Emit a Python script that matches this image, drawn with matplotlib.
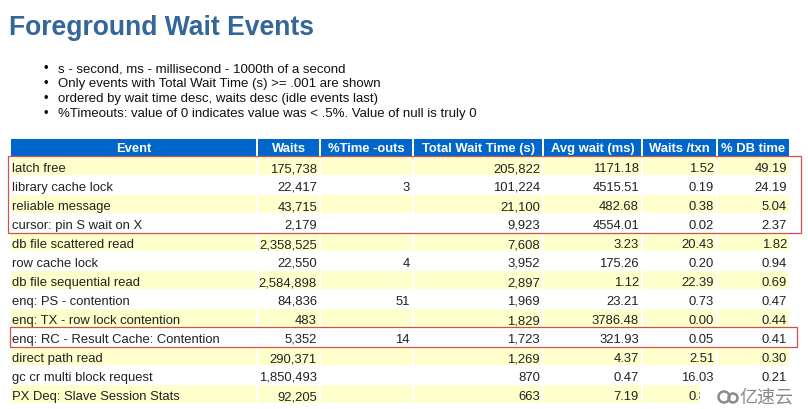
import matplotlib
matplotlib.use("Agg")
import matplotlib.pyplot as plt
from matplotlib.patches import Rectangle, Circle

# ---- data ----
title = "Foreground Wait Events"
notes = [
    "s - second, ms - millisecond - 1000th of a second",
    "Only events with Total Wait Time (s) >= .001 are shown",
    "ordered by wait time desc, waits desc (idle events last)",
    "%Timeouts: value of 0 indicates value was < .5%. Value of null is truly 0",
]
columns = ["Event", "Waits", "%Time -outs", "Total Wait Time (s)",
           "Avg wait (ms)", "Waits /txn", "% DB time"]
events = ["latch free", "library cache lock", "reliable message",
          "cursor: pin S wait on X", "db file scattered read", "row cache lock",
          "db file sequential read", "enq: PS - contention",
          "enq: TX - row lock contention", "enq: RC - Result Cache: Contention",
          "direct path read", "gc cr multi block request",
          "PX Deq: Slave Session Stats"]
waits = [175738, 22417, 43715, 2179, 2358525, 22550, 2584898, 84836, 483,
         5352, 290371, 1850493, 92205]
timeouts = [None, 3, None, None, None, 4, None, 51, None, 14, None, None, None]
total_wait = [205822, 101224, 21100, 9923, 7608, 3952, 2897, 1969, 1829,
              1723, 1269, 870, 663]
avg_wait = [1171.18, 4515.51, 482.68, 4554.01, 3.23, 175.26, 1.12, 23.21,
            3786.48, 321.93, 4.37, 0.47, 7.19]
waits_txn = [1.52, 0.19, 0.38, 0.02, 20.43, 0.20, 22.39, 0.73, 0.00, 0.05,
             2.51, 16.03, 0.80]
db_time = [49.19, 24.19, 5.04, 2.37, 1.82, 0.94, 0.69, 0.47, 0.44, 0.41,
           0.30, 0.21, 0.16]
highlight_groups = [(0, 3), (9, 9)]

# ---- layout (pixels) ----
W, H = 808, 409
col_edges = [10, 257, 320, 413, 543, 642, 717, 790]
head_top, head_bot = 139, 156
row_top0, row_h = 157, 19
wm_x, wm_y = 700, 385  # watermark patch corner

fam = ["Liberation Sans", "DejaVu Sans"]
body_fs = 9.4
blue_title = "#336699"
blue_head = "#0066CC"
yellow = "#FFFFCC"
red = "#D05050"

fig = plt.figure(figsize=(W / 100, H / 100), dpi=100)
ax = fig.add_axes([0, 0, 1, 1])
ax.set_xlim(0, W)
ax.set_ylim(H, 0)
ax.axis("off")

# title and notes
ax.text(9, 35, title, fontsize=19.1, fontweight="bold", color=blue_title,
        family=fam, va="baseline", ha="left")
for i, line in enumerate(notes):
    y = 72 + i * 15
    ax.text(43, y, "\u2022", fontsize=body_fs, family=fam, va="baseline", ha="left")
    ax.text(58, y, line, fontsize=9.55, family=fam, va="baseline", ha="left",
            color="#111111")

# header
for j, name in enumerate(columns):
    x0, x1 = col_edges[j] + 1, col_edges[j + 1] - 1
    ax.add_patch(Rectangle((x0, head_top), x1 - x0, head_bot - head_top,
                           facecolor=blue_head, edgecolor="none"))
    ax.text((x0 + x1) / 2, head_top + 13, name,
            fontsize=body_fs, fontweight="bold", color="white", family=fam,
            ha="center", va="baseline")


def fmt_int(v):
    return "" if v is None else f"{v:,}"


rows = []
for i in range(len(events)):
    rows.append([events[i], fmt_int(waits[i]), fmt_int(timeouts[i]),
                 fmt_int(total_wait[i]), f"{avg_wait[i]:.2f}",
                 f"{waits_txn[i]:.2f}", f"{db_time[i]:.2f}"])

clip_rect = Rectangle((0, 0), wm_x, H, transform=ax.transData)
for i, cells in enumerate(rows):
    y0 = row_top0 + i * row_h
    bg = yellow if i % 2 == 0 else "white"
    for j, txt in enumerate(cells):
        x0, x1 = col_edges[j] + 1, col_edges[j + 1] - 1
        ax.add_patch(Rectangle((x0, y0), x1 - x0, row_h - 1,
                               facecolor=bg, edgecolor="none"))
        # cells completely hidden by the watermark are not drawn
        if y0 >= wm_y and x0 >= wm_x:
            continue
        yb = y0 + 15
        if j == 0:
            ax.text(x0 + 1, yb, txt, fontsize=body_fs, family=fam,
                    ha="left", va="baseline", color="#222222")
        else:
            t = ax.text(x1 - 2, yb, txt, fontsize=body_fs, family=fam,
                        ha="right", va="baseline", color="#222222")
            if y0 >= wm_y and x1 > wm_x:
                t.set_clip_path(clip_rect)

# red highlight boxes
for a, b in highlight_groups:
    y0 = row_top0 + a * row_h - 1
    y1 = row_top0 + (b + 1) * row_h
    right = 801 if b - a > 0 else 797
    left = 8 if b - a > 0 else 10
    ax.add_patch(Rectangle((left, y0), right - left, y1 - y0, facecolor="none",
                           edgecolor=red, lw=0.9, zorder=5))

# watermark
ax.add_patch(Rectangle((wm_x, wm_y), W - wm_x, H - wm_y, facecolor="white",
                       edgecolor="none", zorder=6))
ax.add_patch(Circle((724, 397), 5.5, facecolor="none", edgecolor="#8a8a8a",
                    lw=1.8, zorder=7))
ax.add_patch(Circle((733, 398), 4.5, facecolor="none", edgecolor="#8a8a8a",
                    lw=1.8, zorder=7))
ax.text(739, 397, "亿速云", fontsize=13, color="#8a8a8a",
        family=["Noto Sans CJK SC", "DejaVu Sans"], ha="left", va="center",
        zorder=7)

fig.savefig("out.png", dpi=100)
